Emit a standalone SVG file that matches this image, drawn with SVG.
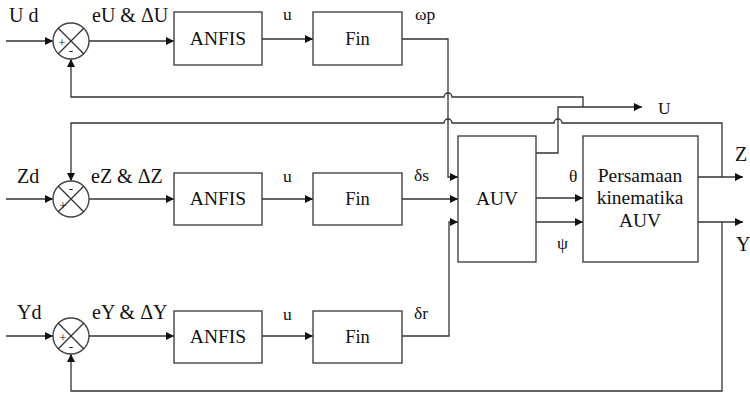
<svg xmlns="http://www.w3.org/2000/svg" width="750" height="393" viewBox="0 0 750 393">
<style>
  .box{fill:#fff;stroke:#444;stroke-width:1.4}
  .ln{fill:none;stroke:#333;stroke-width:1.3}
  .ar{fill:none;stroke:#333;stroke-width:1.3;marker-end:url(#arr)}
  text{font-family:"Liberation Serif","Times New Roman",serif;fill:#111}
  .lb{font-size:17.5px}
  .rl{font-size:20px}
  .bx{font-size:19.5px;text-anchor:middle}
  .fn{font-size:18.5px;text-anchor:middle}
  .sg{font-size:13px;text-anchor:middle}
</style>
<defs>
  <marker id="arr" viewBox="0 0 10 10" refX="10" refY="5" markerWidth="9" markerHeight="8" markerUnits="userSpaceOnUse" orient="auto">
    <path d="M0,0 L10,5 L0,10 z" fill="#111"/>
  </marker>
</defs>
<g id="connectors">
  <path class="ar" d="M6,41 L53,41"/>
  <path class="ar" d="M89,41 L174,41"/>
  <path class="ar" d="M262,39 L313,39"/>
  <path class="ar" d="M402,39 L448,39 L448,177 L458,177"/>
  <path class="ar" d="M6,199 L53,199"/>
  <path class="ar" d="M89,199 L174,199"/>
  <path class="ar" d="M262,199 L313,199"/>
  <path class="ar" d="M402,199 L458,199"/>
  <path class="ar" d="M6,336 L53,336"/>
  <path class="ar" d="M89,336 L174,336"/>
  <path class="ar" d="M262,336 L313,336"/>
  <path class="ar" d="M402,336 L449,336 L449,222 L458,222"/>
  <path class="ar" d="M536,198 L583,198"/>
  <path class="ar" d="M536,222 L583,222"/>
  <path class="ar" d="M536,153 L558,153 L558,107 L642,107"/>
  <path class="ar" d="M583,107 L583,97 L452,97 A4,4 0 0 0 444,97 L71,97 L71,59"/>
  <path class="ar" d="M722,177 L722,123 L562,123 A4,4 0 0 0 554,123 L452,123 A4,4 0 0 0 444,123 L71,123 L71,181"/>
  <path class="ar" d="M698,177 L743,177"/>
  <path class="ar" d="M698,222 L743,222"/>
  <path class="ar" d="M722,222 L722,391 L71,391 L71,354"/>
</g>
<g id="sum1">
  <circle cx="71" cy="41" r="18" class="box"/>
  <path class="ln" d="M58.3,28.3 L83.7,53.7 M83.7,28.3 L58.3,53.7"/>
  <text class="sg" x="62" y="47">+</text>
  <text class="sg" x="71" y="55">-</text>
</g>
<g id="sum2">
  <circle cx="71" cy="199" r="18" class="box"/>
  <path class="ln" d="M58.3,186.3 L83.7,211.7 M83.7,186.3 L58.3,211.7"/>
  <text class="sg" x="71" y="193">-</text>
  <text class="sg" x="63" y="210">+</text>
</g>
<g id="sum3">
  <circle cx="71" cy="336" r="18" class="box"/>
  <path class="ln" d="M58.3,323.3 L83.7,348.7 M83.7,323.3 L58.3,348.7"/>
  <text class="sg" x="63" y="342">+</text>
  <text class="sg" x="71" y="351">-</text>
</g>
<g id="anfis1"><rect class="box" x="174" y="12" width="88" height="53"/><text class="bx" x="218" y="45">ANFIS</text></g>
<g id="fin1"><rect class="box" x="313" y="12" width="89" height="53"/><text class="fn" x="357.5" y="45">Fin</text></g>
<g id="anfis2"><rect class="box" x="174" y="173" width="88" height="52"/><text class="bx" x="218" y="205">ANFIS</text></g>
<g id="fin2"><rect class="box" x="313" y="173" width="89" height="52"/><text class="fn" x="357.5" y="205">Fin</text></g>
<g id="anfis3"><rect class="box" x="174" y="311" width="88" height="52"/><text class="bx" x="218" y="343">ANFIS</text></g>
<g id="fin3"><rect class="box" x="313" y="311" width="89" height="52"/><text class="fn" x="357.5" y="343">Fin</text></g>
<g id="auv"><rect class="box" x="458" y="136" width="78" height="126"/><text class="bx" x="497" y="205">AUV</text></g>
<g id="kinematika"><rect class="box" x="583" y="136" width="115" height="126"/>
  <text class="bx" x="640" y="182">Persamaan</text>
  <text class="bx" x="640" y="204">kinematika</text>
  <text class="bx" x="640" y="227">AUV</text>
</g>
<g id="labels">
  <text class="rl" x="9" y="22">U d</text>
  <text class="rl" x="92" y="22">eU &amp; ΔU</text>
  <text class="lb" x="283" y="20">u</text>
  <text class="lb" x="415" y="20">ωp</text>
  <text class="lb" x="658" y="114">U</text>
  <text class="rl" x="17" y="183">Zd</text>
  <text class="rl" x="91" y="183">eZ &amp; ΔZ</text>
  <text class="lb" x="283" y="182">u</text>
  <text class="lb" x="414" y="181">δs</text>
  <text class="lb" x="569" y="182">θ</text>
  <text class="lb" x="557" y="249">ψ</text>
  <text class="rl" x="735" y="161">Z</text>
  <text class="rl" x="736" y="251">Y</text>
  <text class="rl" x="17" y="319">Yd</text>
  <text class="rl" x="92" y="319">eY &amp; ΔY</text>
  <text class="lb" x="283" y="320">u</text>
  <text class="lb" x="414" y="319">δr</text>
</g>
</svg>
